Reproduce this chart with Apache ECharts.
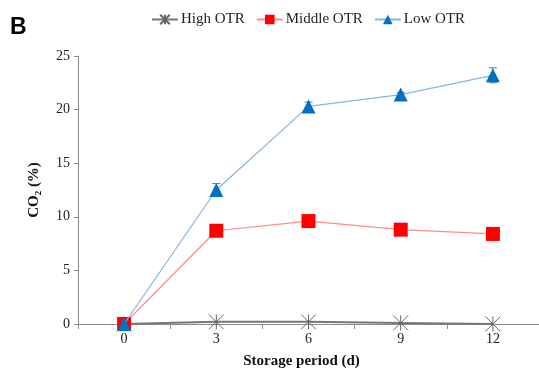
<!DOCTYPE html>
<html><head><meta charset="utf-8">
<script src="https://cdn.jsdelivr.net/npm/echarts@6/dist/echarts.min.js"></script>
<style>html,body{margin:0;padding:0;background:#fff}#c{width:539px;height:381px}</style>
</head><body><div id="c"></div>
<script>
const categories = ['0','3','6','9','12'];
const highOTR = [0, 0.2, 0.2, 0.1, 0.0];
const middleOTR = [0, 8.7, 9.6, 8.8, 8.4];
const lowOTR = [0, 12.5, 20.3, 21.4, 23.2];
const lowErr = [0, 0.6, 0.4, 0.2, 0.7];
const yTicks = [0, 5, 10, 15, 20, 25];

const serif = 'Liberation Serif';
const chart = echarts.init(document.getElementById('c'), null, {renderer:'canvas'});

function errSeries(vals, errs){
  return {
    type:'custom', silent:true, z:1,
    data: vals.map((v,i)=>[i, v-errs[i], v+errs[i]]),
    renderItem: function(params, api){
      const lo = api.coord([api.value(0), api.value(1)]);
      const hi = api.coord([api.value(0), api.value(2)]);
      const w = 4;
      return {type:'group', children:[
        {type:'line', shape:{x1:lo[0],y1:lo[1],x2:hi[0],y2:hi[1]}, style:{stroke:'#777',lineWidth:1}},
        {type:'line', shape:{x1:lo[0]-w,y1:lo[1],x2:lo[0]+w,y2:lo[1]}, style:{stroke:'#777',lineWidth:1}},
        {type:'line', shape:{x1:hi[0]-w,y1:hi[1],x2:hi[0]+w,y2:hi[1]}, style:{stroke:'#777',lineWidth:1}}
      ]};
    }
  };
}

const starPath = 'path://M0,0L10,10M10,0L0,10M5,0L5,10';

chart.setOption({
  animation:false,
  graphic:[{type:'text', left:10, top:16, style:{text:'B', font:'bold 23px "Liberation Sans"', fill:'#000'}}],
  legend:{
    top:7, left:146, itemGap:11, itemWidth:26, itemHeight:12,
    textStyle:{fontFamily:serif, fontSize:15, color:'#222', padding:[0,0,0,-2]},
    data:['High OTR','Middle OTR','Low OTR']
  },
  grid:{left:78, right:0, top:56, bottom:57},
  xAxis:{
    type:'category', data:categories, boundaryGap:true,
    name:'Storage period (d)', nameLocation:'middle', nameGap:30,
    nameTextStyle:{fontFamily:serif, fontSize:15, fontWeight:'bold', color:'#111', padding:[0,0,0,-14]},
    axisLine:{lineStyle:{color:'#8c8c8c'}},
    axisTick:{show:true, length:5, lineStyle:{color:'#8c8c8c'}},
    axisLabel:{fontFamily:serif, fontSize:14, color:'#222', margin:8}
  },
  yAxis:{
    type:'value', min:0, max:25, interval:5,
    name:'CO₂ (%)', nameLocation:'middle', nameGap:36, nameRotate:90,
    nameTextStyle:{fontFamily:serif, fontSize:15, fontWeight:'bold', color:'#111'},
    axisLine:{show:true, lineStyle:{color:'#8c8c8c'}},
    axisTick:{show:true, length:4, lineStyle:{color:'#8c8c8c'}},
    splitLine:{show:false},
    axisLabel:{fontFamily:serif, fontSize:14, color:'#222', margin:8,
      formatter: v => yTicks.includes(v) ? String(v) : ''}
  },
  series:[
    errSeries(lowOTR, lowErr),
    {name:'High OTR', type:'line', data:highOTR, z:3,
      symbol:starPath, symbolSize:15,
      itemStyle:{color:'#ffffff', borderColor:'#666', borderWidth:1},
      lineStyle:{color:'#777', width:2}},
    {name:'Middle OTR', type:'line', data:middleOTR, z:4,
      symbol:'rect', symbolSize:14,
      itemStyle:{color:'#ff0000'},
      lineStyle:{color:'#ff8a8a', width:1.2}},
    {name:'Low OTR', type:'line', data:lowOTR, z:5,
      symbol:'triangle', symbolSize:14,
      itemStyle:{color:'#0070c0'},
      lineStyle:{color:'#85b6e3', width:1.2}}
  ]
});
</script></body></html>
